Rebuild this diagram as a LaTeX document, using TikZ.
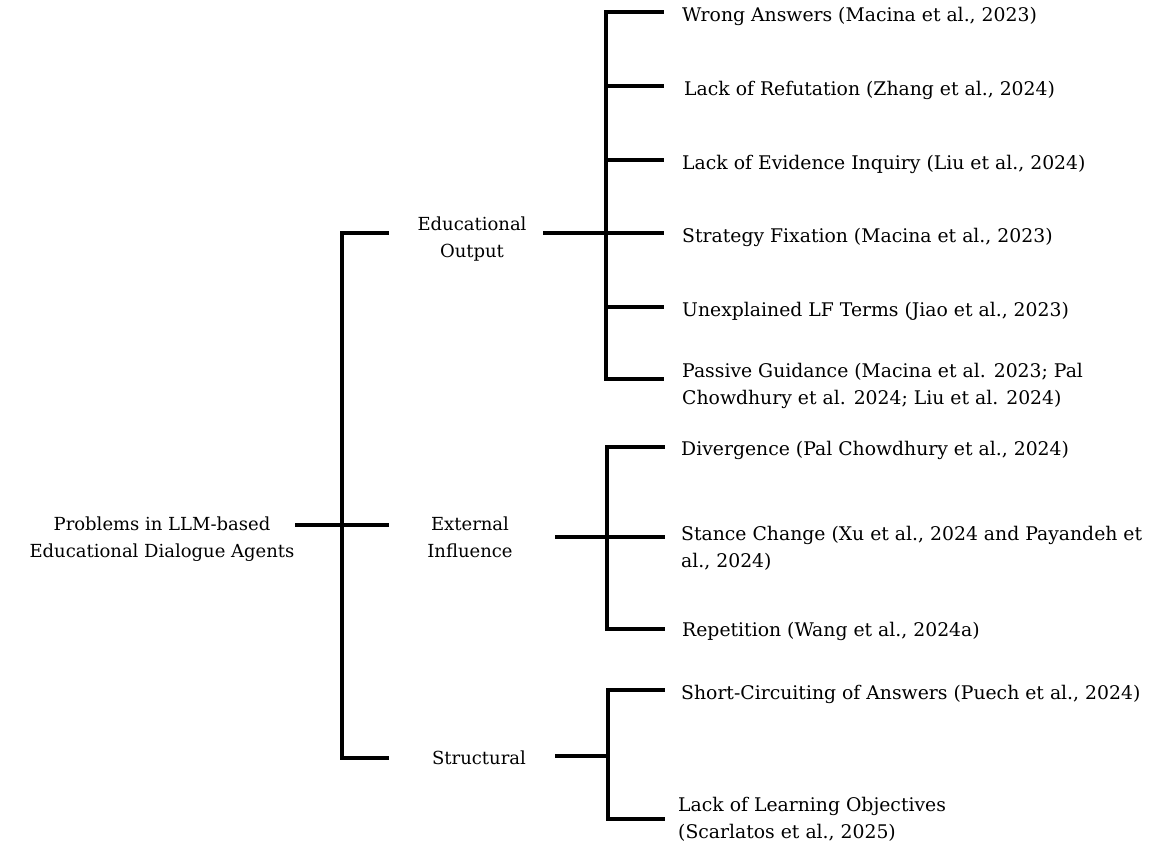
\documentclass[tikz,border=0pt]{standalone}
\usepackage{fontspec}
\setmainfont{DejaVu Serif}
\usetikzlibrary{positioning}
\tikzset{
    topic/.style={align=center, inner sep=0pt, font=\fontsize{18}{27}\selectfont},
    leaf/.style={anchor=west, align=left, inner sep=0pt, font=\fontsize{18.8}{27}\selectfont},
    bracket/.style={line width=3.2pt, line cap=rect}
}

\begin{document}
\begin{tikzpicture}[x=1pt, y=-1pt]
    \useasboundingbox (0,0) rectangle (1154,849);

    % left side
    \node[topic] (root) at (162,539) {Problems in LLM-based\\Educational Dialogue Agents};
    \node[topic] (edu) at (472,239) {Educational\\Output};
    \node[topic] (ext) at (470,537) {External\\Influence};
    \node[topic] (str) at (479,758) {Structural};

    % leaves
    \node[leaf] (wrong) at (682,16) {Wrong Answers (Macina et al., 2023)};
    \node[leaf] (refut) at (684,90) {Lack of Refutation (Zhang et al., 2024)};
    \node[leaf] (evid) at (682,164) {Lack of Evidence Inquiry (Liu et al., 2024)};
    \node[leaf] (fix) at (682,237) {Strategy Fixation (Macina et al., 2023)};
    \node[leaf] (lf) at (682,311) {Unexplained LF Terms (Jiao et al., 2023)};
    \node[leaf] (pass) at (682,386) {Passive Guidance (Macina et al. 2023; Pal\\Chowdhury et al. 2024; Liu et al. 2024)};
    \node[leaf] (div) at (681,450) {Divergence (Pal Chowdhury et al., 2024)};
    \node[leaf] (stance) at (681,548) {Stance Change (Xu et al., 2024 and Payandeh et\\al., 2024)};
    \node[leaf] (rep) at (682,631) {Repetition (Wang et al., 2024a)};
    \node[leaf] (short) at (681,694) {Short-Circuiting of Answers (Puech et al., 2024)};
    \node[leaf] (learn) at (678,819) {Lack of Learning Objectives\\(Scarlatos et al., 2025)};

    % junctions
    \coordinate (root-out) at (297,525);
    \coordinate (spine) at (342,525);
    \coordinate (l1) at (387,525);
    \coordinate (edu-out) at (545,233);
    \coordinate (edu-bar) at (606,233);
    \coordinate (ext-out) at (557,537);
    \coordinate (ext-bar) at (607,537);
    \coordinate (str-out) at (557,756);
    \coordinate (str-bar) at (608,756);

    % root bracket
    \draw[bracket] (root-out) -- (l1);
    \draw[bracket] (l1 |- edu-out) -- (spine |- edu-out) -- (spine |- 0,758) -- (l1 |- 0,758);

    % educational output
    \draw[bracket] (edu-out) -- (662,233);
    \draw[bracket] (662,12) -- (edu-bar |- 0,12) -- (edu-bar |- 0,379) -- (662,379);
    \draw[bracket] (edu-bar |- 0,86) -- (662,86);
    \draw[bracket] (edu-bar |- 0,160) -- (662,160);
    \draw[bracket] (edu-bar |- 0,307) -- (662,307);

    % external influence
    \draw[bracket] (ext-out) -- (663,537);
    \draw[bracket] (663,447) -- (ext-bar |- 0,447) -- (ext-bar |- 0,629) -- (663,629);

    % structural
    \draw[bracket] (str-out) -- (str-bar);
    \draw[bracket] (663,690) -- (str-bar |- 0,690) -- (str-bar |- 0,819) -- (663,819);
\end{tikzpicture}
\end{document}
